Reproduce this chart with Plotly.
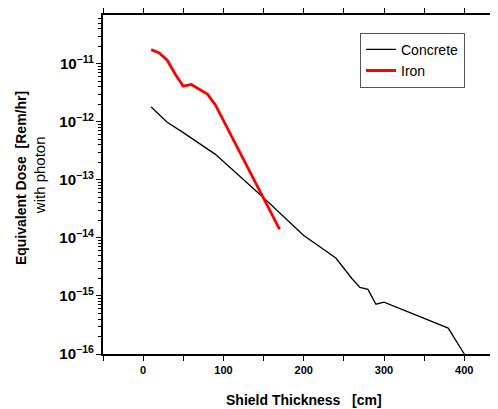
import plotly.graph_objects as go

# Shield thickness [cm] and equivalent dose [Rem/hr]
concrete_x = [10, 30, 50, 80, 90, 150, 200, 240, 260, 270, 280, 290, 300, 380, 400]
concrete_y = [1.8e-12, 9.8e-13, 6.5e-13, 3.4e-13, 2.75e-13, 4.9e-14, 1.1e-14,
              4.5e-15, 2.0e-15, 1.4e-15, 1.3e-15, 7.2e-16, 7.8e-16, 2.8e-16, 1.0e-16]

iron_x = [10, 20, 30, 40, 50, 60, 80, 90, 170]
iron_y = [1.75e-11, 1.53e-11, 1.15e-11, 6.6e-12, 4.1e-12, 4.4e-12, 3.0e-12, 1.95e-12, 1.4e-14]

FONT = "Liberation Sans, Arial, sans-serif"

# page body has an 8px margin, so the figure is drawn 8px smaller
W, H = 490, 401
L, R, T, B = 95, 0, 1, 55
PW, PH = W - L - R, H - T - B


def px(x):
    return (x - L) / PW


def py(y):
    return (H - B - y) / PH


fig = go.Figure()
fig.add_trace(go.Scatter(x=concrete_x, y=concrete_y, mode="lines", name="Concrete",
                         line=dict(color="black", width=1.3)))
fig.add_trace(go.Scatter(x=iron_x, y=iron_y, mode="lines", name="Iron",
                         line=dict(color="#ff0000", width=2.8)))

fig.update_layout(
    width=W,
    height=H,
    margin=dict(l=L, r=R, t=T, b=B),
    plot_bgcolor="white",
    paper_bgcolor="white",
    font=dict(family=FONT, color="black"),
    legend=dict(
        x=px(352), y=py(19), xanchor="left", yanchor="top",
        bordercolor="#555555", borderwidth=1, bgcolor="white",
        font=dict(size=14, family=FONT), tracegroupgap=0,
    ),
    xaxis=dict(
        range=[-50, 442], showgrid=False, zeroline=False,
        showline=True, linecolor="black", linewidth=1.5, mirror="ticks",
        ticks="outside", ticklen=5, tickwidth=1.2, tickcolor="black",
        tickvals=[0, 100, 200, 300, 400],
        tickfont=dict(size=11, family=FONT, weight="bold"),
        minor=dict(dtick=50, ticks="outside", ticklen=5, tickcolor="black", showgrid=False),
    ),
    yaxis=dict(
        type="log", range=[-16, -10.16], showgrid=False, zeroline=False,
        showline=True, linecolor="black", linewidth=1.5,
        ticks="outside", ticklen=5, tickwidth=1.2, tickcolor="black",
        dtick=1, exponentformat="power",
        tickfont=dict(size=12, family=FONT, weight="bold"),
        minor=dict(dtick="D1", ticks="outside", ticklen=3, tickcolor="black", showgrid=False),
    ),
)

fig.add_annotation(
    text="<b>Equivalent Dose\u00a0\u00a0[Rem/hr]</b>", xref="paper", yref="paper",
    x=px(13), y=py(167), xanchor="center", yanchor="middle",
    textangle=-90, showarrow=False, font=dict(size=14, family=FONT),
)
fig.add_annotation(
    text="with photon", xref="paper", yref="paper",
    x=px(31), y=py(164), xanchor="center", yanchor="middle",
    textangle=-90, showarrow=False, font=dict(size=15, family=FONT),
)
fig.add_annotation(
    text="<b>Shield Thickness\u00a0\u00a0\u00a0[cm]</b>", xref="paper", yref="paper",
    x=px(296), y=py(393), xanchor="center", yanchor="middle",
    showarrow=False, font=dict(size=14, family=FONT),
)

fig.write_html("out.html")
